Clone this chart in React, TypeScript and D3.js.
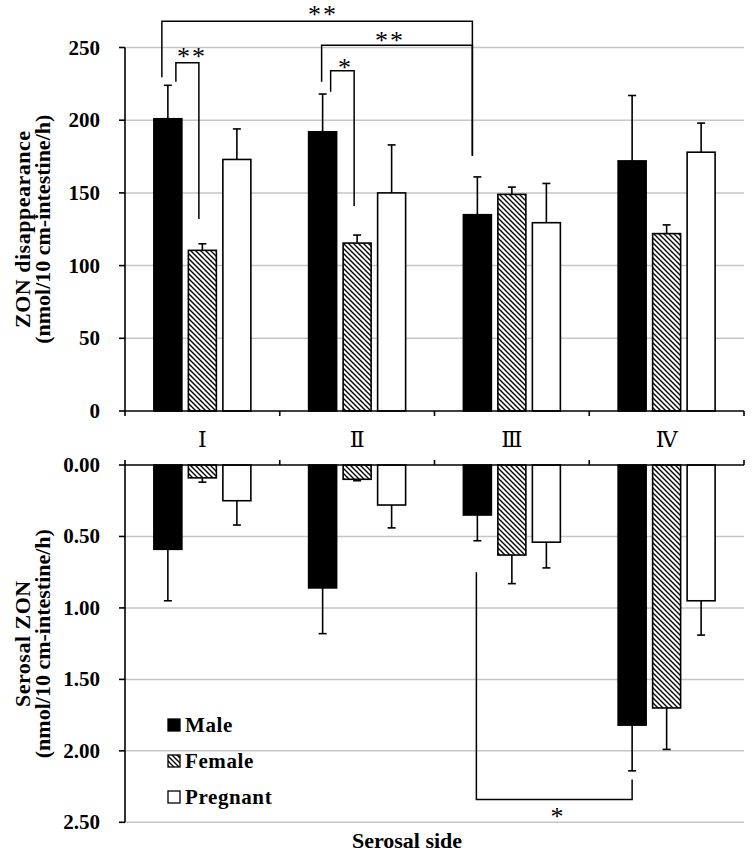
import React from 'react';
import * as d3 from 'd3';

const categories = ['Ⅰ', 'Ⅱ', 'Ⅲ', 'Ⅳ'];
const groups = ['Male', 'Female', 'Pregnant'];

// ZON disappearance (nmol/10 cm-intestine/h)
const maleDisap = [201, 192, 135, 172];
const femaleDisap = [110.5, 115.5, 149, 122];
const pregnantDisap = [173, 150, 129.5, 178];
const maleDisapSd = [23, 26, 26, 45];
const femaleDisapSd = [4.5, 5.5, 5, 6];
const pregnantDisapSd = [21, 33, 27, 20];

// Serosal ZON (nmol/10 cm-intestine/h)
const maleSerosal = [0.59, 0.86, 0.35, 1.82];
const femaleSerosal = [0.09, 0.1, 0.63, 1.7];
const pregnantSerosal = [0.25, 0.28, 0.54, 0.95];
const maleSerosalSd = [0.36, 0.32, 0.18, 0.32];
const femaleSerosalSd = [0.03, 0.01, 0.2, 0.29];
const pregnantSerosalSd = [0.17, 0.16, 0.18, 0.24];

const topTicks = [0, 50, 100, 150, 200, 250];
const bottomTicks = [0, 0.5, 1, 1.5, 2, 2.5];

// significance brackets: [cat, group, y start] -> level -> [cat, group, y end]
const topBrackets = [
  { a: [0, 0, 229.5], b: [2, 0, 175.5], level: 268, dxa: -6, dxb: -5, label: '**', lx: 322, ly: 23 },
  { a: [1, 0, 226.5], b: [2, 0, 175.5], level: 251.5, dxa: -1, dxb: -5, label: '**', lx: 389, ly: 49 },
  { a: [0, 0, 226.5], b: [0, 1, 132], level: 239.5, dxa: 8, dxb: -3.5, label: '**', lx: 191, ly: 65 },
  { a: [1, 0, 219.5], b: [1, 1, 141], level: 234, dxa: 8, dxb: -3, label: '*', lx: 344.5, ly: 76 },
];
const bottomBrackets = [
  { a: [2, 0, 0.75], b: [3, 0, 2.2], level: 2.34, dxa: -1, dxb: 0, label: '*', lx: 557, ly: 825 },
];

const W = 752;
const H = 855;
const x0 = 125;
const x1 = 744;
const topY0 = 411;
const topY1 = 47.5;
const botY0 = 465;
const botY1 = 822.3;

const serif = '"Liberation Serif", "Times New Roman", "DejaVu Serif", serif';

const App: React.FC = () => {
  const x = d3.scaleBand<string>().domain(categories).range([x0, x1]).paddingInner(0).paddingOuter(0);
  const xg = d3.scaleBand<string>().domain(groups).range([0, x.bandwidth()]).paddingInner(0.1884).paddingOuter(0.837);
  const yTop = d3.scaleLinear().domain([0, 250]).range([topY0, topY1]);
  const yBot = d3.scaleLinear().domain([0, 2.5]).range([botY0, botY1]);

  const topVals = [maleDisap, femaleDisap, pregnantDisap];
  const topSd = [maleDisapSd, femaleDisapSd, pregnantDisapSd];
  const botVals = [maleSerosal, femaleSerosal, pregnantSerosal];
  const botSd = [maleSerosalSd, femaleSerosalSd, pregnantSerosalSd];

  const fills = ['#000', 'url(#hatch)', '#fff'];
  const bw = xg.bandwidth();
  const cx = (ci: number, gi: number) => (x(categories[ci]) as number) + (xg(groups[gi]) as number) + bw / 2;
  const boundaries = [...categories.map((c) => x(c) as number), x1];

  const bars = (vals: number[][], sds: number[][], y: d3.ScaleLinear<number, number>, key: string) =>
    vals.map((series, gi) =>
      series.map((v, ci) => {
        const xc = cx(ci, gi);
        const yv = y(v);
        const ye = y(v + sds[gi][ci]);
        const y0 = y(0);
        return (
          <g key={`${key}-${gi}-${ci}`}>
            <line x1={xc} x2={xc} y1={yv} y2={ye} stroke="#000" strokeWidth={1.6} />
            <line x1={xc - 4} x2={xc + 4} y1={ye} y2={ye} stroke="#000" strokeWidth={1.6} />
            <rect
              x={xc - bw / 2}
              y={Math.min(yv, y0)}
              width={bw}
              height={Math.abs(yv - y0)}
              fill={fills[gi]}
              stroke="#000"
              strokeWidth={1.6}
            />
          </g>
        );
      })
    );

  const bracket = (b: any, y: d3.ScaleLinear<number, number>, i: string) => {
    const xa = cx(b.a[0], b.a[1]) + b.dxa;
    const xb = cx(b.b[0], b.b[1]) + b.dxb;
    const path = `M${xa},${y(b.a[2])}V${y(b.level)}H${xb}V${y(b.b[2])}`;
    return (
      <g key={i}>
        <path d={path} fill="none" stroke="#000" strokeWidth={1.5} />
        <text x={b.lx + 1} y={b.ly} textAnchor="middle" fontFamily={serif} fontSize={26} letterSpacing={2}>
          {b.label}
        </text>
      </g>
    );
  };

  return (
    <svg width={W} height={H} style={{ position: 'absolute', left: 0, top: 0, background: '#fff' }}>
      <defs>
        <pattern id="hatch" patternUnits="userSpaceOnUse" width={5} height={5}>
          <rect width={5} height={5} fill="#fff" />
          <path d="M0,0L5,5M-1,4L1,6M4,-1L6,1" stroke="#000" strokeWidth={1.4} />
        </pattern>
      </defs>

      {/* gridlines */}
      {topTicks.slice(1).map((t) => (
        <line key={`gt${t}`} x1={x0} x2={x1} y1={yTop(t)} y2={yTop(t)} stroke="#c6c6c6" strokeWidth={1.5} />
      ))}
      {bottomTicks.slice(1).map((t) => (
        <line key={`gb${t}`} x1={x0} x2={x1} y1={yBot(t)} y2={yBot(t)} stroke="#c6c6c6" strokeWidth={1.5} />
      ))}

      {bars(topVals, topSd, yTop, 't')}
      {bars(botVals, botSd, yBot, 'b')}

      {/* axes */}
      <line x1={x0} x2={x0} y1={topY1} y2={topY0} stroke="#000" strokeWidth={1.6} />
      <line x1={x0} x2={x1} y1={topY0} y2={topY0} stroke="#000" strokeWidth={1.6} />
      <line x1={x0} x2={x0} y1={botY0} y2={botY1} stroke="#000" strokeWidth={1.6} />
      <line x1={x0} x2={x1} y1={botY0} y2={botY0} stroke="#000" strokeWidth={1.6} />
      {topTicks.map((t) => (
        <g key={`tt${t}`}>
          <line x1={x0 - 6} x2={x0} y1={yTop(t)} y2={yTop(t)} stroke="#000" strokeWidth={1.6} />
          <text x={100} y={yTop(t) + 7} textAnchor="end" fontFamily={serif} fontWeight="bold" fontSize={21}>
            {t}
          </text>
        </g>
      ))}
      {bottomTicks.map((t) => (
        <g key={`bt${t}`}>
          <line x1={x0 - 6} x2={x0} y1={yBot(t)} y2={yBot(t)} stroke="#000" strokeWidth={1.6} />
          <text x={100} y={yBot(t) + 7} textAnchor="end" fontFamily={serif} fontWeight="bold" fontSize={21}>
            {t.toFixed(2)}
          </text>
        </g>
      ))}
      {boundaries.map((b, i) => (
        <g key={`cb${i}`}>
          <line x1={b} x2={b} y1={topY0} y2={topY0 + 5} stroke="#000" strokeWidth={1.6} />
          <line x1={b} x2={b} y1={botY0 - 5} y2={botY0} stroke="#000" strokeWidth={1.6} />
        </g>
      ))}
      {categories.map((c) => (
        <text
          key={c}
          x={(x(c) as number) + x.bandwidth() / 2}
          y={447}
          textAnchor="middle"
          fontFamily={serif}
          fontSize={22}
        >
          {c}
        </text>
      ))}

      {topBrackets.map((b, i) => bracket(b, yTop, `tb${i}`))}
      {bottomBrackets.map((b, i) => bracket(b, yBot, `bb${i}`))}

      {/* axis titles */}
      <g transform={`translate(30,${(topY0 + topY1) / 2}) rotate(-90)`}>
        <text textAnchor="middle" fontFamily={serif} fontWeight="bold" fontSize={22} letterSpacing={0.5}>
          ZON disappearance
        </text>
        <text y={20} textAnchor="middle" fontFamily={serif} fontWeight="bold" fontSize={22}>
          (nmol/10 cm-intestine/h)
        </text>
      </g>
      <g transform={`translate(30,${(botY0 + botY1) / 2}) rotate(-90)`}>
        <text textAnchor="middle" fontFamily={serif} fontWeight="bold" fontSize={22} letterSpacing={0.5}>
          Serosal ZON
        </text>
        <text y={20} textAnchor="middle" fontFamily={serif} fontWeight="bold" fontSize={22}>
          (nmol/10 cm-intestine/h)
        </text>
      </g>
      <text x={407} y={848} textAnchor="middle" fontFamily={serif} fontWeight="bold" fontSize={22}>
        Serosal side
      </text>

      {/* legend */}
      {groups.map((g, i) => (
        <g key={g} transform={`translate(168,${725 + i * 36})`}>
          <rect x={0} y={-6} width={12} height={12} fill={fills[i]} stroke="#000" strokeWidth={1.3} />
          <text x={17} y={7} fontFamily={serif} fontWeight="bold" fontSize={21} letterSpacing={0.6}>
            {g}
          </text>
        </g>
      ))}
    </svg>
  );
};

export default App;
